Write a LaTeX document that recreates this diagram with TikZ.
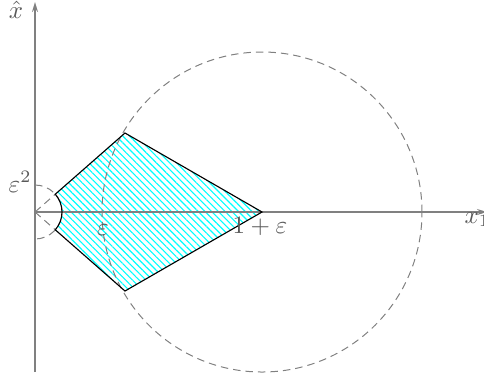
\documentclass[tikz,border=0pt]{standalone}
\usetikzlibrary{patterns.meta,arrows.meta}
\begin{document}
\begin{tikzpicture}[x=0.4pt,y=0.4pt,
  axis/.style={draw=gray,line width=0.6pt},
  guide/.style={draw=gray,line width=0.4pt,dash pattern=on 3pt off 2pt},
  region/.style={pattern={Lines[angle=-45,distance=1.9pt,line width=0.45pt]},pattern color=cyan},
  edge/.style={draw=black,line width=0.45pt},
  lbl/.style={text=black!65,inner sep=0pt},
  tip/.style={-{Stealth[length=4pt,width=2.4pt]}}]
\useasboundingbox (-35,-164) rectangle (449,212);
\clip (-35,-164) rectangle (449,212);
\coordinate (O) at (0,0);
\coordinate (C) at (227,0);
\coordinate (V1) at (90,79);
\coordinate (V2) at (90,-79);
\coordinate (W1) at (41.27:27);
\coordinate (W2) at (-41.27:27);
\coordinate (S) at (0,27);
\coordinate (Ytop) at (0,210);
\coordinate (Ybot) at (0,-160);
\coordinate (Xend) at (452,0);
% hatched region
\fill[region] (W1) -- (V1) -- (C) -- (V2) -- (W2) arc[start angle=-41.27,end angle=41.27,radius=27] -- cycle;
% dashed guides
\draw[guide] (C) circle[radius=160];
\draw[guide] (S) arc[start angle=90,end angle=-90,radius=27];
\draw[guide] (O) -- (W1);
\draw[guide] (O) -- (W2);
% axes
\draw[axis,tip] (Ybot) -- (Ytop);
\draw[axis,tip] (O) -- (Xend);
% region boundary
\draw[edge] (W1) -- (V1) -- (C) -- (V2) -- (W2) arc[start angle=-41.27,end angle=41.27,radius=27] -- cycle;
% labels
\node[lbl,anchor=base] (lx) at (-19,194) {$\hat{x}$};
\node[lbl,anchor=base east] (le2) at (-3,20) {$\varepsilon^2$};
\node[lbl,anchor=base] (le) at (68,-23) {$\varepsilon$};
\node[lbl,anchor=base] (l1e) at (225,-21) {$1+\varepsilon$};
\node[lbl,anchor=base west] (lx1) at (429,-11) {$x_1$};
\end{tikzpicture}
\end{document}
